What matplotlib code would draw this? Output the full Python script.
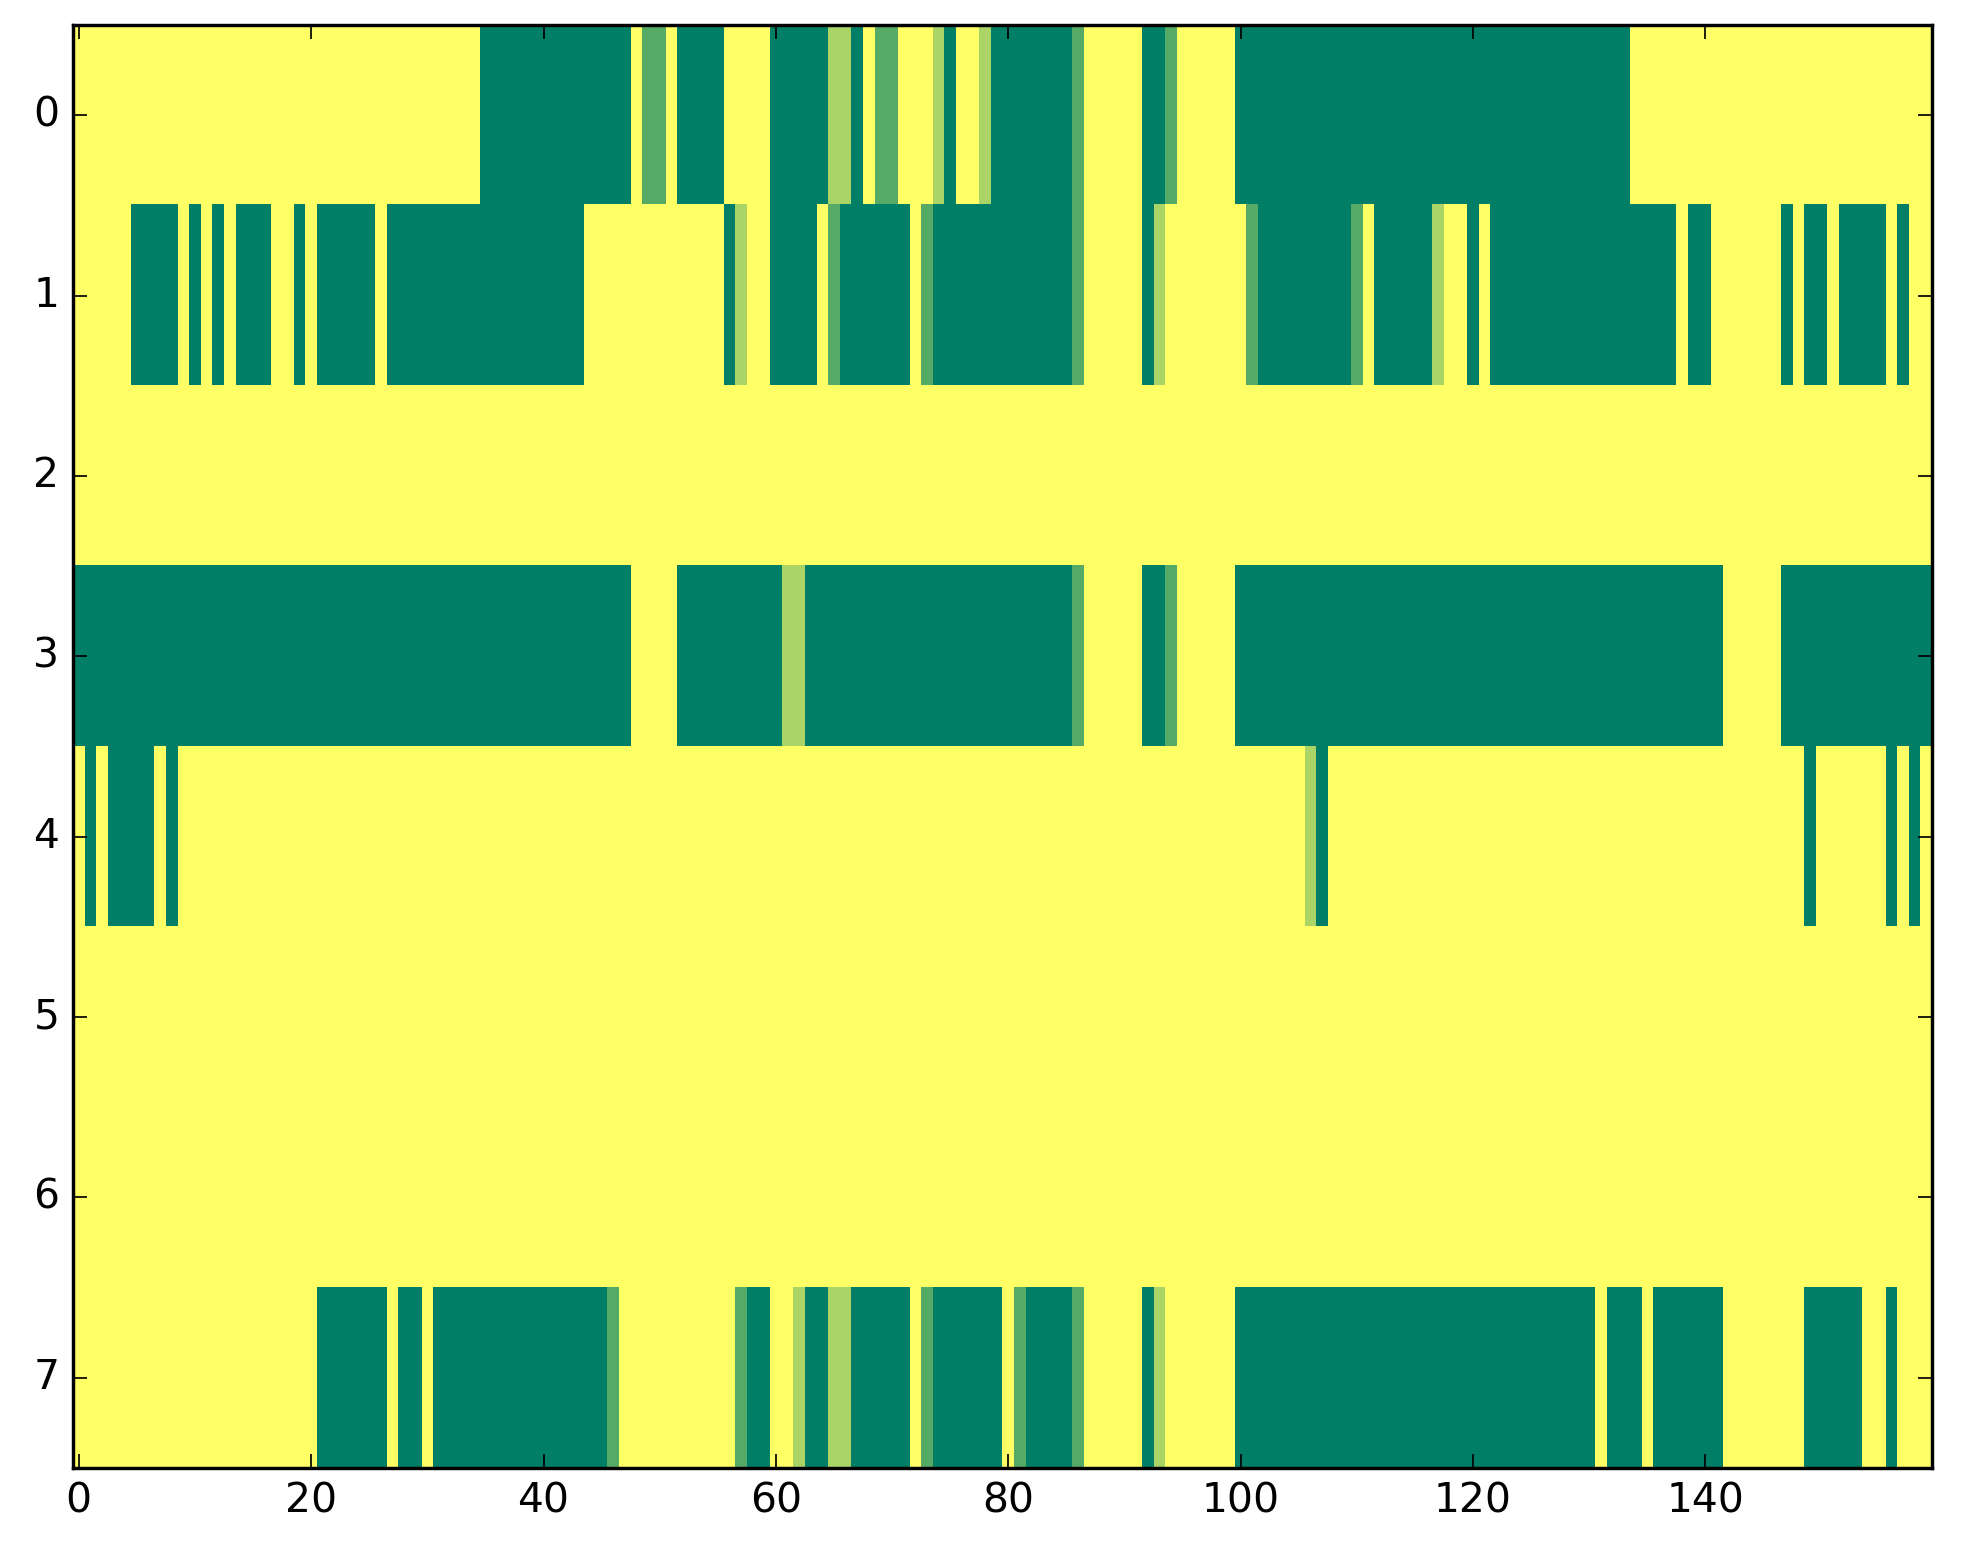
import numpy as np
import matplotlib
matplotlib.use("Agg")
import matplotlib.pyplot as plt

# cell values per row, one digit per column (0 = dark green ... 3 = yellow)
row0 = ("3333333333" "3333333333" "3333333333" "3333300000" "0000000031"
        "1300003333" "0000022031" "1333203320" "0000001333" "3300133333"
        "0000000000" "0000000000" "0000000000" "0000333333" "3333333333"
        "3333333333")
row1 = ("3333300003" "0303000330" "3000003000" "0000000000" "0000333333"
        "3333330233" "0000310000" "0031000000" "0000001333" "3302333333"
        "3100000000" "1300000233" "0300000000" "0000000030" "0333333030"
        "0300003033")
row2 = "3" * 160
row3 = ("0000000000" "0000000000" "0000000000" "0000000000" "0000000033"
        "3300000000" "0220000000" "0000000000" "0000001333" "3300133333"
        "0000000000" "0000000000" "0000000000" "0000000000" "0033333000"
        "0000000000")
row4 = ("3030000303" "3333333333" "3333333333" "3333333333" "3333333333"
        "3333333333" "3333333333" "3333333333" "3333333333" "3333333333"
        "3333332033" "3333333333" "3333333333" "3333333333" "3333333330"
        "3333330303")
row5 = "3" * 160
row6 = "3" * 160
row7 = ("3333333333" "3333333333" "3000000300" "3000000000" "0000001333"
        "3333333100" "3320022000" "0031000000" "3100001333" "3302333333"
        "0000000000" "0000000000" "0000000000" "0300030000" "0033333330"
        "0000330333")

rows = [row0, row1, row2, row3, row4, row5, row6, row7]
grid = np.array([[int(ch) for ch in r] for r in rows], dtype=float)

plt.style.use("classic")
dpi = 245
fig = plt.figure(figsize=(1963 / dpi, 1564 / dpi), dpi=dpi)
ax = fig.add_axes([73 / 1963, 96 / 1564, 1859 / 1963, 1443 / 1564])

ax.imshow(grid, cmap="summer", vmin=0, vmax=3, aspect="auto",
          interpolation="nearest")
ax.set_xticks([0, 20, 40, 60, 80, 100, 120, 140])
ax.set_yticks(range(8))
ax.set_xlim(-0.5, 159.5)
ax.set_ylim(7.5, -0.5)

fig.savefig("out.png", dpi=dpi)
